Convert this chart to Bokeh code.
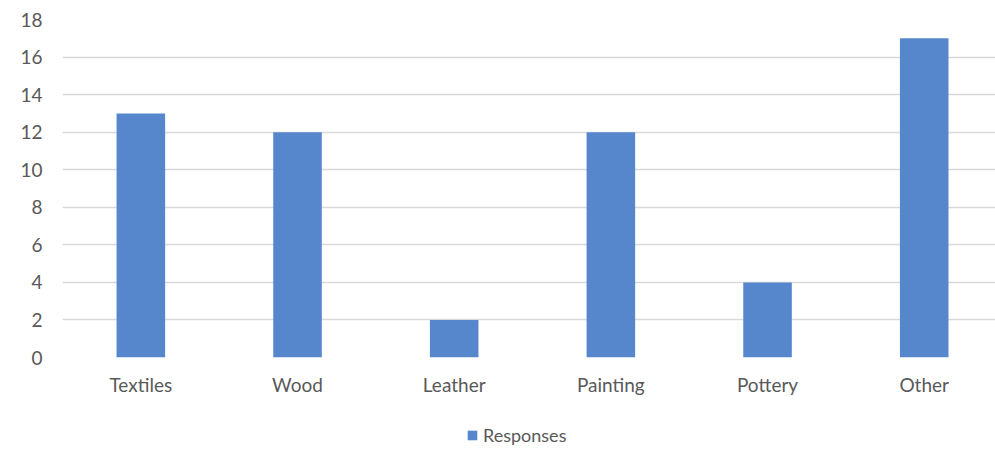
from bokeh.plotting import figure
from bokeh.layouts import column
from bokeh.models import ColumnDataSource, Range1d, FixedTicker, Legend, LegendItem
from bokeh.embed import file_html
from bokeh.resources import INLINE

categories = ["Textiles", "Wood", "Leather", "Painting", "Pottery", "Other"]
responses = [13, 12, 2, 12, 4, 17]
y_ticks = [0, 2, 4, 6, 8, 10, 12, 14, 16, 18]
series_name = "Responses"

xs = list(range(len(categories)))
src = ColumnDataSource(dict(x=xs, top=responses, cat=categories))

FONT = "Lato"
GREY = "#595959"
BLUE = "#5687CD"

p = figure(width=995, height=410, output_backend="svg", toolbar_location=None,
           x_range=Range1d(-0.5, 5.455), y_range=Range1d(0, 18))
p.min_border_left = 62
p.min_border_right = 0
p.min_border_top = 19
p.min_border_bottom = 53
p.outline_line_color = None
p.background_fill_color = "white"
p.border_fill_color = "white"

p.vbar(x="x", top="top", width=0.31, source=src, fill_color=BLUE, line_color=None)

p.xaxis.ticker = FixedTicker(ticks=xs)
p.xaxis.major_label_overrides = {i: c for i, c in enumerate(categories)}
p.yaxis.ticker = FixedTicker(ticks=y_ticks)

for ax in (p.xaxis[0], p.yaxis[0]):
    ax.axis_line_color = None
    ax.major_tick_line_color = None
    ax.minor_tick_line_color = None
    ax.major_tick_out = 0
    ax.major_tick_in = 0
    ax.major_label_text_font = FONT
    ax.major_label_text_color = GREY
    ax.major_label_text_font_size = "19px"

p.xaxis.major_label_standoff = 15
p.yaxis.major_label_standoff = 20

p.xgrid.grid_line_color = None
p.ygrid.grid_line_color = "#D9D9D9"
p.ygrid.grid_line_width = 1.3

# legend strip below the chart (its bars lie outside its view; only the swatch shows)
leg = figure(width=995, height=39, output_backend="svg", toolbar_location=None,
             x_range=Range1d(-0.5, 5.455), y_range=Range1d(100, 101),
             x_axis_location=None, y_axis_location=None)
leg.min_border_left = 0
leg.min_border_right = 0
leg.min_border_top = 0
leg.min_border_bottom = 0
leg.outline_line_color = None
leg.grid.visible = False
leg.border_fill_color = "white"
swatch = leg.vbar(x="x", top="top", width=0.31, source=src, fill_color=BLUE, line_color=None)

legend = Legend(items=[LegendItem(label=series_name, renderers=[swatch])],
                orientation="horizontal", location=(404, 3),
                label_text_font=FONT, label_text_color=GREY, label_text_font_size="18px",
                glyph_width=12, glyph_height=12, border_line_color=None,
                background_fill_alpha=0, margin=0, padding=0, label_standoff=5)
leg.add_layout(legend)

layout = column(p, leg, spacing=0)
open("out.html", "w").write(file_html(layout, INLINE))
